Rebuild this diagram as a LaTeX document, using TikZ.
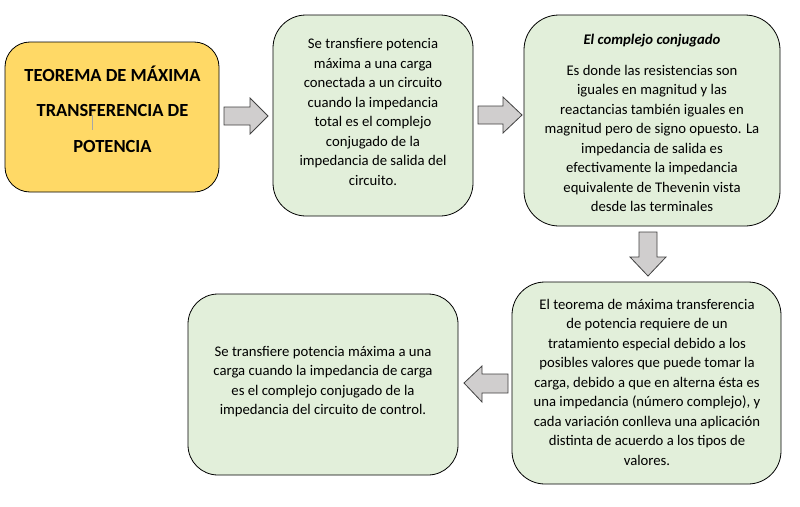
\documentclass[tikz,border=0pt]{standalone}
\usepackage{fontspec}
\setmainfont{Carlito}
\definecolor{boxyellow}{HTML}{FFD966}
\definecolor{boxgreen}{HTML}{E2EFDA}
\definecolor{arrowfill}{HTML}{D0CECE}
\definecolor{arrowline}{HTML}{404040}
\tikzset{
  card/.style={draw=black, line width=0.8pt, fill=boxgreen, inner sep=0pt},
  cardtext/.style={align=center, inner sep=0pt, font=\fontsize{14.7}{19.5}\selectfont},
  blockarrow/.style={draw=arrowline, line width=0.8pt, fill=arrowfill, line join=miter}
}
\begin{document}
\begin{tikzpicture}[x=1pt,y=-1pt]
\useasboundingbox (0,0) rectangle (800,506);
% boxes
\node[card, fill=boxyellow, minimum width=214pt, minimum height=150pt, rounded corners=25pt] (b1) at (112,117) {};
\node[card, minimum width=200pt, minimum height=201pt, rounded corners=33pt] (b2) at (373,115.5) {};
\node[card, minimum width=256pt, minimum height=211pt, rounded corners=35pt] (b3) at (652,120.5) {};
\node[card, minimum width=269pt, minimum height=202pt, rounded corners=33pt] (b4) at (646.5,383) {};
\node[card, minimum width=270pt, minimum height=181pt, rounded corners=30pt] (b5) at (323,384.5) {};
% texts
\node[cardtext, font=\fontsize{18.5}{35.5}\selectfont\bfseries] (t1) at (112.5,109)
  {TEOREMA DE MÁXIMA\\TRANSFERENCIA DE\\POTENCIA};
\node[cardtext] (t2) at (373,112)
  {Se transfiere potencia\\máxima a una carga\\conectada a un circuito\\cuando la impedancia\\total es el complejo\\conjugado de la\\impedancia de salida del\\circuito.};
\node[cardtext] (t3) at (652,123)
  {\textbf{\textit{El complejo conjugado}}\\[11.5pt]Es donde las resistencias son\\iguales en magnitud y las\\reactancias también iguales en\\magnitud pero de signo opuesto. La\\impedancia de salida es\\efectivamente la impedancia\\equivalente de Thevenin vista\\desde las terminales};
\node[cardtext] (t4) at (647,382)
  {El teorema de máxima transferencia\\de potencia requiere de un\\tratamiento especial debido a los\\posibles valores que puede tomar la\\carga, debido a que en alterna ésta es\\una impedancia (número complejo), y\\cada variación conlleva una aplicación\\distinta de acuerdo a los tipos de\\valores.};
\node[cardtext] (t5) at (323,381.5)
  {Se transfiere potencia máxima a una\\carga cuando la impedancia de carga\\es el complejo conjugado de la\\impedancia del circuito de control.};
% cursor mark in title
\draw[color=gray!70, line width=0.6pt] (92,115) -- (92,130);
% block arrows
\draw[blockarrow] (224,107) -- (250,107) -- (250,98) -- (268,116) -- (250,134) -- (250,125) -- (224,125) -- cycle;
\draw[blockarrow] (478,106) -- (503,106) -- (503,97) -- (522,115) -- (503,133) -- (503,124) -- (478,124) -- cycle;
\draw[blockarrow] (639,232) -- (657,232) -- (657,257) -- (666,257) -- (648,276) -- (630,257) -- (639,257) -- cycle;
\draw[blockarrow] (508,374) -- (482,374) -- (482,366) -- (464,383) -- (482,402) -- (482,393) -- (508,393) -- cycle;
\end{tikzpicture}
\end{document}
